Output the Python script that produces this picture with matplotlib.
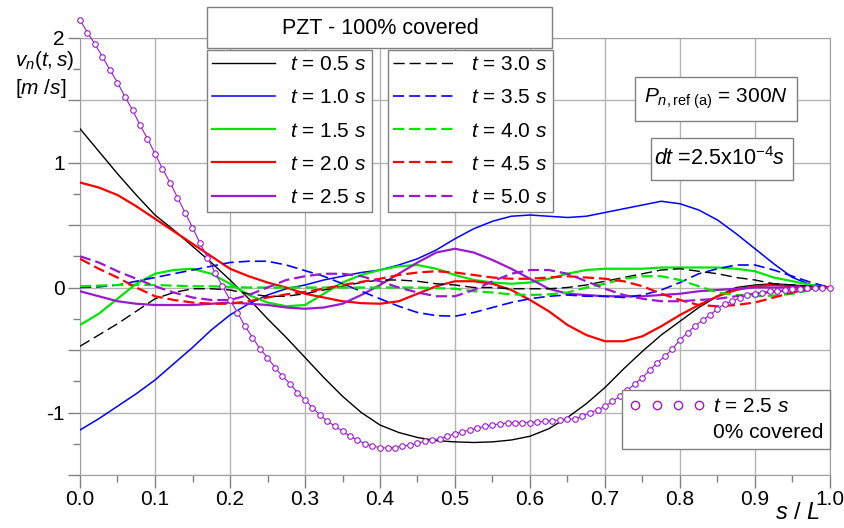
import numpy as np
import matplotlib
import matplotlib.pyplot as plt
from matplotlib.lines import Line2D
from matplotlib.patches import Rectangle
from matplotlib.ticker import MultipleLocator, FuncFormatter

matplotlib.use("Agg")

plt.rcParams['font.family'] = ['Liberation Sans', 'DejaVu Sans']
plt.rcParams['mathtext.fontset'] = 'custom'
plt.rcParams['mathtext.rm'] = 'Liberation Sans'
plt.rcParams['mathtext.it'] = 'Liberation Sans:italic'
plt.rcParams['mathtext.bf'] = 'Liberation Sans:bold'
plt.rcParams['axes.unicode_minus'] = False

# s/L sample positions of the PZT curves (every 0.025)
s = np.linspace(0.0, 1.0, 41)

# PZT - 100% covered, v_n(t,s) [m/s]
v_05 = [1.27, 1.09, 0.91, 0.74, 0.58, 0.46, 0.33, 0.20, 0.06, -0.09,
        -0.25, -0.40, -0.56, -0.72, -0.87, -1.00, -1.10, -1.16, -1.20, -1.225,
        -1.235, -1.24, -1.235, -1.22, -1.19, -1.13, -1.04, -0.93, -0.80, -0.65,
        -0.51, -0.38, -0.27, -0.16, -0.07, 0.0, 0.02, 0.03, 0.02, 0.01, 0.0]
v_10 = [-1.14, -1.05, -0.95, -0.85, -0.74, -0.61, -0.48, -0.34, -0.22, -0.13,
        -0.06, -0.01, 0.02, 0.06, 0.09, 0.12, 0.14, 0.18, 0.23, 0.30,
        0.39, 0.47, 0.53, 0.57, 0.58, 0.57, 0.56, 0.57, 0.60, 0.63,
        0.66, 0.69, 0.67, 0.62, 0.54, 0.43, 0.31, 0.19, 0.08, 0.02, 0.0]
v_15 = [-0.30, -0.21, -0.09, 0.03, 0.11, 0.14, 0.15, 0.11, 0.03, -0.06,
        -0.12, -0.15, -0.14, -0.05, 0.04, 0.10, 0.14, 0.17, 0.18, 0.15,
        0.10, 0.06, 0.04, 0.03, 0.04, 0.07, 0.11, 0.14, 0.15, 0.15,
        0.15, 0.16, 0.16, 0.16, 0.16, 0.15, 0.13, 0.08, 0.05, 0.02, 0.0]
v_20 = [0.84, 0.80, 0.74, 0.65, 0.55, 0.45, 0.35, 0.25, 0.15, 0.09,
        0.04, 0.0, -0.05, -0.08, -0.11, -0.125, -0.13, -0.11, -0.05, 0.01,
        0.05, 0.05, 0.03, -0.02, -0.10, -0.19, -0.30, -0.38, -0.43, -0.43,
        -0.39, -0.31, -0.22, -0.14, -0.07, -0.02, 0.01, 0.02, 0.01, 0.005, 0.0]
v_25 = [-0.03, -0.07, -0.11, -0.13, -0.14, -0.14, -0.14, -0.13, -0.12, -0.13,
        -0.14, -0.16, -0.17, -0.16, -0.13, -0.06, 0.02, 0.11, 0.20, 0.28,
        0.31, 0.28, 0.22, 0.15, 0.07, -0.01, -0.05, -0.06, -0.07, -0.07,
        -0.07, -0.06, -0.05, -0.03, -0.02, -0.01, 0.0, 0.0, 0.0, 0.0, 0.0]
v_30 = [-0.47, -0.38, -0.29, -0.19, -0.09, -0.04, -0.01, -0.01, -0.02, -0.05,
        -0.07, -0.07, -0.05, -0.02, 0.01, 0.04, 0.06, 0.06, 0.05, 0.03,
        0.02, 0.0, 0.0, -0.01, -0.01, -0.01, 0.0, 0.02, 0.05, 0.08,
        0.11, 0.14, 0.15, 0.13, 0.11, 0.08, 0.06, 0.03, 0.02, 0.01, 0.0]
v_35 = [0.0, 0.005, 0.02, 0.05, 0.08, 0.11, 0.14, 0.17, 0.20, 0.21,
        0.21, 0.18, 0.135, 0.09, 0.03, -0.03, -0.09, -0.15, -0.20, -0.225,
        -0.23, -0.20, -0.16, -0.12, -0.09, -0.07, -0.06, -0.07, -0.07, -0.08,
        -0.06, -0.02, 0.04, 0.11, 0.15, 0.18, 0.18, 0.14, 0.09, 0.04, 0.0]
v_40 = [0.01, 0.015, 0.02, 0.02, 0.02, 0.015, 0.01, 0.01, 0.005, 0.0,
        0.0, 0.0, 0.0, 0.0, 0.0, 0.0, 0.0, 0.0, 0.0, -0.005,
        -0.01, -0.03, -0.04, -0.055, -0.06, -0.055, -0.04, 0.0, 0.03, 0.07,
        0.09, 0.09, 0.06, 0.01, -0.04, -0.06, -0.07, -0.065, -0.05, -0.02, 0.0]
v_45 = [0.23, 0.15, 0.08, 0.0, -0.07, -0.10, -0.12, -0.13, -0.13, -0.11,
        -0.08, -0.055, -0.035, -0.01, 0.02, 0.045, 0.07, 0.10, 0.12, 0.13,
        0.12, 0.10, 0.08, 0.07, 0.07, 0.08, 0.09, 0.08, 0.07, 0.05,
        0.01, -0.05, -0.10, -0.14, -0.15, -0.14, -0.12, -0.08, -0.04, -0.01, 0.0]
v_50 = [0.25, 0.20, 0.13, 0.07, 0.01, -0.04, -0.08, -0.10, -0.10, -0.06,
        0.0, 0.06, 0.09, 0.11, 0.11, 0.09, 0.05, 0.0, -0.04, -0.07,
        -0.07, -0.02, 0.05, 0.11, 0.14, 0.14, 0.11, 0.05, -0.01, -0.06,
        -0.09, -0.11, -0.11, -0.10, -0.09, -0.07, -0.05, -0.035, -0.02, -0.01, 0.0]

# 0% covered, t = 2.5 s, sampled every 0.01
s_bare = np.linspace(0.0, 1.0, 101)
v_bare = [2.14, 2.04, 1.945, 1.846, 1.74, 1.64, 1.526, 1.42, 1.30, 1.19,
          1.07, 0.95, 0.84, 0.72, 0.60, 0.48, 0.355, 0.24, 0.12, 0.01,
          -0.10, -0.20, -0.31, -0.40, -0.49, -0.56, -0.64, -0.71, -0.77, -0.84,
          -0.90, -0.96, -1.02, -1.07, -1.11, -1.15, -1.19, -1.22, -1.25, -1.27,
          -1.28, -1.285, -1.28, -1.27, -1.26, -1.245, -1.23, -1.22, -1.21, -1.19,
          -1.17, -1.155, -1.14, -1.125, -1.11, -1.10, -1.09, -1.085, -1.08, -1.08,
          -1.08, -1.075, -1.07, -1.065, -1.06, -1.055, -1.05, -1.03, -1.00, -0.98,
          -0.95, -0.91, -0.87, -0.82, -0.77, -0.72, -0.66, -0.60, -0.55, -0.49,
          -0.42, -0.36, -0.31, -0.26, -0.22, -0.17, -0.13, -0.11, -0.08, -0.06,
          -0.05, -0.04, -0.03, -0.025, -0.02, -0.015, -0.01, -0.005, 0.0, 0.0,
          0.0]

labels = [r'$t$ = 0.5 $s$', r'$t$ = 1.0 $s$', r'$t$ = 1.5 $s$', r'$t$ = 2.0 $s$',
          r'$t$ = 2.5 $s$', r'$t$ = 3.0 $s$', r'$t$ = 3.5 $s$', r'$t$ = 4.0 $s$',
          r'$t$ = 4.5 $s$', r'$t$ = 5.0 $s$']

BLACK, BLUE, GREEN, RED, PURPLE = '#000000', '#0000ff', '#00e600', '#ff0000', '#9a1ad0'
W, H = 845, 528
FS = 15


def fx(px):
    return px / W


def fy(py):
    return 1 - py / H


def dashed(lw):
    # same dash length in points whatever the line width
    return (0, (8.0 / lw, 3.6 / lw))


fig = plt.figure(figsize=(W / 100, H / 100), dpi=100)
ax = fig.add_axes([fx(80), fy(475), 750 / W, 437.5 / H])

series = [
    (v_05, BLACK, '-', 1.0), (v_10, BLUE, '-', 1.1), (v_15, GREEN, '-', 1.6),
    (v_20, RED, '-', 1.6), (v_25, PURPLE, '-', 1.6),
    (v_30, BLACK, 'd', 1.0), (v_35, BLUE, 'd', 1.2), (v_40, GREEN, 'd', 1.6),
    (v_45, RED, 'd', 1.6), (v_50, PURPLE, 'd', 1.6),
]
handles = []
for (vals, col, ls, lw), lab in zip(series, labels):
    style = dashed(lw) if ls == 'd' else ls
    h, = ax.plot(s, vals, color=col, ls=style, lw=lw, label=lab, zorder=3)
    handles.append(h)

ax.plot(s_bare, v_bare, color=PURPLE, lw=0.8, marker='o', ms=4, mfc='white',
        mec=PURPLE, mew=0.8, clip_on=False, zorder=4)

ax.set_xlim(0, 1)
ax.set_ylim(-1.5, 2)
ax.xaxis.set_major_locator(MultipleLocator(0.1))
ax.xaxis.set_minor_locator(MultipleLocator(0.05))
ax.yaxis.set_major_locator(MultipleLocator(0.5))
ax.yaxis.set_minor_locator(MultipleLocator(0.25))
ax.xaxis.set_major_formatter(FuncFormatter(lambda v, p: f'{v:.1f}'))
ax.yaxis.set_major_formatter(
    FuncFormatter(lambda v, p: f'{v:.0f}' if abs(v - round(v)) < 1e-6 else ''))
ax.grid(True, which='major', color='#b4b4b4', lw=1.0, zorder=0)
ax.set_axisbelow(True)
for sp in ax.spines.values():
    sp.set_color('#a0a0a0')
ax.tick_params(which='major', length=9, width=1, color='#808080',
               direction='out', labelsize=FS, pad=2)
ax.tick_params(which='minor', length=5, width=1, color='#808080', direction='out')

# legends for the covered case
common = dict(loc='upper left', bbox_transform=fig.transFigure, frameon=True,
              fancybox=False, edgecolor='#808080', framealpha=1, fontsize=FS,
              handlelength=3.03, handletextpad=0.72, borderpad=0.25,
              labelspacing=0.68, borderaxespad=0)
leg1 = ax.legend(handles[:5], labels[:5], bbox_to_anchor=(fx(207), fy(50)), **common)
leg1.get_frame().set_linewidth(1.0)
ax.add_artist(leg1)
leg2 = ax.legend(handles[5:], labels[5:], bbox_to_anchor=(fx(388), fy(50)), **common)
leg2.get_frame().set_linewidth(1.0)
ax.add_artist(leg2)

bare_h = Line2D([], [], ls='none', marker='o', ms=6, mfc='white', mec=PURPLE, mew=1.0)
blank_h = Line2D([], [], ls='none')
leg3 = ax.legend([bare_h, blank_h], [r'$t$ = 2.5 $s$', '0% covered'],
                 loc='upper left', bbox_to_anchor=(fx(622), fy(390)),
                 bbox_transform=fig.transFigure, frameon=True, fancybox=False,
                 edgecolor='#808080', framealpha=1, fontsize=FS, numpoints=4,
                 handlelength=3.68, handletextpad=0.37, borderpad=0.33,
                 labelspacing=0.33, borderaxespad=0)
leg3.get_frame().set_linewidth(1.0)


def boxed(x0, y0, x1, y1, txt, cx, cy, size):
    fig.patches.append(Rectangle((fx(x0), fy(y1)), (x1 - x0) / W, (y1 - y0) / H,
                                 transform=fig.transFigure, fc='white',
                                 ec='#808080', lw=1.0, zorder=6))
    fig.text(fx(cx), fy(cy), txt, ha='center', va='center', fontsize=size, zorder=7)


boxed(207, 7, 552, 48, 'PZT - 100% covered', 380, 28, 15.5)
boxed(635, 77, 797, 121, r'$P_{n,\mathrm{ref\ (a)}}$ = 300$N$', 716, 99, 15)
boxed(651, 138, 793, 180, r'$dt$ =2.5x10$^{-4}$$s$', 720, 159, 15.5)

fig.text(fx(15), fy(61), r'$v_n(t,s)$', ha='left', va='center', fontsize=FS)
fig.text(fx(15), fy(89), r'[$m$ /$s$]', ha='left', va='center', fontsize=FS)
fig.text(fx(797), fy(513), r'$s$ / $L$', ha='center', va='center', fontsize=17)

fig.savefig('out.png', dpi=100)
